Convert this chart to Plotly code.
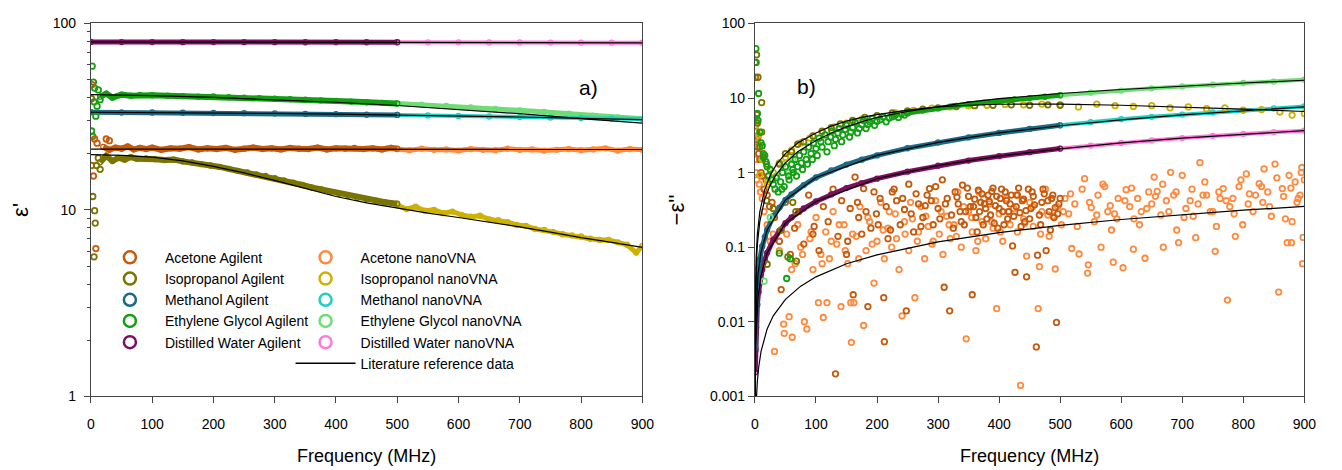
import plotly.graph_objects as go

# ---------------- panel a) : real permittivity eps' ----------------
# distilled water
wat_ag_f = [0, 50, 100, 150, 200, 250, 300, 350, 400, 450, 500]
wat_ag_e1 = [79.6, 79.5, 79.5, 79.4, 79.5, 79.4, 79.4, 79.3, 79.4, 79.3, 79.3]
wat_nv_f = [500, 550, 600, 650, 700, 750, 800, 850, 900]
wat_nv_e1 = [79.3, 79.2, 79.2, 79.1, 79.1, 79.0, 79.0, 78.9, 78.9]

# ethylene glycol
eg_ag_f = [15, 25, 35, 50, 65, 80, 100, 125, 150, 175, 200, 225, 250, 275, 300, 325, 350, 375, 400, 425, 450, 475, 500]
eg_ag_e1 = [40.5, 42.0, 40.0, 41.5, 41.0, 41.4, 41.2, 41.0, 40.8, 40.5, 40.6, 40.2, 40.0, 39.8, 39.5, 39.3, 39.0, 38.7, 38.4, 38.1, 37.8, 37.5, 37.2]
eg_ag_lf_f = [1, 2, 3, 4, 5, 6, 8, 10, 12, 15]
eg_ag_lf_e1 = [26.5, 59.0, 24.8, 48.5, 38.0, 45.0, 31.8, 36.0, 44.0, 39.0]
eg_nv_f = [500, 540, 580, 620, 660, 700, 740, 780, 820, 860, 900]
eg_nv_e1 = [37.2, 36.7, 36.1, 35.5, 34.8, 34.2, 33.5, 32.8, 32.0, 31.3, 30.8]

# methanol
met_ag_f = [0, 50, 100, 150, 200, 250, 300, 350, 400, 450, 500]
met_ag_e1 = [33.4, 33.3, 33.3, 33.2, 33.1, 33.0, 32.9, 32.7, 32.6, 32.4, 32.3]
met_nv_f = [500, 550, 600, 650, 700, 750, 800, 850, 900]
met_nv_e1 = [32.3, 32.1, 31.9, 31.7, 31.5, 31.3, 31.1, 30.9, 30.7]

# acetone
ace_ag_f = [20, 30, 40, 50, 60, 70, 80, 90, 100, 115, 130, 145, 160, 175, 190, 205, 220, 235,
            250, 265, 280, 295, 310, 325, 340, 355, 370, 385, 400, 415, 430, 445, 460, 475, 490, 500]
ace_ag_e1 = [21.8, 21.0, 21.6, 21.3, 21.9, 21.1, 21.5, 21.2, 21.6, 21.0, 21.4, 21.3, 21.7, 21.1, 21.4, 21.2, 21.5, 21.0,
             21.3, 21.6, 21.2, 21.4, 21.1, 21.5, 21.3, 21.2, 21.6, 21.1, 21.4, 21.3, 21.5, 21.2, 21.4, 21.1, 21.5, 21.3]
ace_ag_lf_f = [1, 2, 4, 6, 8, 10, 25, 30]
ace_ag_lf_e1 = [17.3, 47.0, 15.2, 24.0, 6.2, 22.8, 24.0, 23.5]
ace_nv_f = [500, 520, 540, 560, 580, 600, 620, 640, 660, 680, 700, 720, 740, 760, 780, 800, 820, 840, 860, 880, 900]
ace_nv_e1 = [21.2, 20.9, 21.3, 21.0, 21.1, 20.8, 21.2, 21.0, 20.9, 21.3, 21.0, 21.1, 20.8, 21.0, 21.2, 20.9, 21.1, 21.4, 20.8, 21.2, 21.0]

# isopropanol
ipa_ag_f = [15, 25, 35, 45, 55, 65, 75, 90, 105, 120, 135, 150, 165, 180, 195, 210, 225, 240, 255, 270,
            285, 300, 315, 330, 345, 360, 375, 390, 405, 420, 435, 450, 465, 480, 500]
ipa_ag_e1 = [18.0, 19.5, 18.3, 19.0, 18.6, 19.2, 18.8, 18.9, 18.7, 18.5, 18.6, 18.2, 18.0, 17.6, 17.3, 17.0, 16.6, 16.2, 15.9, 15.5,
             15.2, 14.8, 14.4, 14.0, 13.6, 13.2, 12.9, 12.5, 12.2, 11.9, 11.6, 11.4, 11.2, 11.0, 10.8]
ipa_ag_lf_f = [1, 3, 5, 6, 7, 9, 12, 15]
ipa_ag_lf_e1 = [39.5, 11.8, 5.6, 9.9, 8.5, 17.3, 19.0, 16.5]
ipa_nv_f = [500, 515, 530, 545, 560, 575, 590, 605, 620, 635, 650, 665, 680, 695, 710, 725, 740, 755, 770, 785,
            800, 815, 830, 845, 860, 875, 890, 900]
ipa_nv_e1 = [10.6, 10.1, 10.4, 9.9, 10.0, 9.6, 9.8, 9.4, 9.2, 9.3, 8.9, 8.8, 8.6, 8.3, 8.2, 7.9, 7.8, 7.6, 7.4, 7.3,
             7.2, 7.0, 6.9, 6.9, 6.7, 6.5, 5.9, 6.4]

# literature reference curves, eps'
lit_f = [0, 100, 200, 300, 400, 500, 600, 700, 800, 900]
lit_wat_e1 = [79.6, 79.5, 79.4, 79.3, 79.2, 79.1, 79.0, 78.9, 78.8, 78.7]
lit_eg_e1 = [41.5, 41.0, 40.1, 39.0, 37.8, 36.3, 34.6, 32.8, 30.9, 29.2]
lit_met_e1 = [33.4, 33.3, 33.1, 32.9, 32.6, 32.3, 31.9, 31.5, 31.0, 30.5]
lit_ace_e1 = [21.2, 21.2, 21.2, 21.2, 21.2, 21.2, 21.1, 21.1, 21.1, 21.1]
lit_ipa_f = [0, 50, 100, 150, 200, 250, 300, 350, 400, 450, 500, 550, 600, 650, 700, 750, 800, 850, 900]
lit_ipa_e1 = [19.8, 19.6, 19.2, 18.3, 17.1, 15.8, 14.4, 13.0, 11.8, 10.9, 10.2, 9.6, 9.1, 8.6, 8.1, 7.6, 7.1, 6.7, 6.3]

# ---------------- panel b) : loss factor -eps'' ----------------
smooth_f = [0.5, 1, 2, 4, 6, 8, 12, 16, 20, 30, 40, 50, 60, 80, 100, 125, 150, 175, 200, 250, 300, 350, 400, 450, 500]
wat_ag_e2 = [0.0021, 0.0042, 0.0085, 0.017, 0.025, 0.034, 0.05, 0.067, 0.084, 0.125,
             0.165, 0.21, 0.25, 0.33, 0.41, 0.51, 0.62, 0.72, 0.83, 1.03,
             1.24, 1.45, 1.66, 1.88, 2.1]
met_ag_e2 = [0.0045, 0.009, 0.017, 0.034, 0.052, 0.069, 0.103, 0.137, 0.17, 0.26,
             0.34, 0.43, 0.51, 0.68, 0.86, 1.07, 1.28, 1.49, 1.7, 2.12,
             2.54, 2.96, 3.4, 3.85, 4.3]
nv_hi_f = [500, 550, 600, 650, 700, 750, 800, 850, 900]
wat_nv_e2 = [2.1, 2.3, 2.5, 2.7, 2.9, 3.1, 3.3, 3.48, 3.65]
met_nv_e2 = [4.3, 4.75, 5.2, 5.6, 6.0, 6.4, 6.8, 7.25, 7.7]

eg_ag2_f = [1.5, 2, 4, 5, 6, 8, 10, 12, 14, 16,
            18, 20, 22, 25, 28, 30, 33, 35, 38, 40,
            42, 45, 48, 50, 52, 55, 58, 60, 63, 66,
            70, 73, 76, 80, 84, 88, 92, 96, 100, 105,
            110, 115, 120, 126, 132, 138, 144, 150, 157, 164,
            171, 178, 185, 192, 200, 210, 220, 230, 240, 250]
eg_ag2_e2 = [46, 30, 6.2, 5.0, 11.5, 3.5, 2.5, 2.3, 1.6, 1.7,
             1.4, 1.2, 0.9, 1.1, 0.8, 0.7, 0.6, 0.85, 0.55, 0.083,
             0.75, 1.0, 0.65, 1.2, 0.038, 0.9, 0.07, 1.3, 1.0, 1.5,
             1.2, 1.7, 1.35, 1.9, 1.5, 2.2, 1.8, 2.5, 2.1, 2.9,
             2.2, 3.2, 2.6, 3.6, 2.8, 3.9, 3.2, 4.3, 3.5, 4.7,
             3.9, 5.0, 4.4, 5.3, 4.9, 5.6, 5.4, 5.9, 6.1, 6.3]
eg_ag2b_f = [44, 56, 62, 68, 78, 86, 94, 102, 108, 118,
             124, 130, 136, 142, 148, 155, 160, 168, 175, 182,
             188, 196, 205, 215, 225, 235, 245]
eg_ag2b_e2 = [0.6, 0.8, 1.1, 0.9, 1.1, 1.3, 1.5, 1.7, 2.6, 1.9,
              3.0, 2.3, 3.4, 2.6, 3.8, 3.0, 4.0, 3.4, 4.4, 3.9,
              4.8, 4.3, 5.1, 4.8, 5.6, 5.5, 5.9]
eg_ag2_band_f = [250, 275, 300, 325, 350, 375, 400, 425, 450, 475, 500]
eg_ag2_band_e2 = [6.3, 6.8, 7.3, 7.8, 8.3, 8.7, 9.1, 9.6, 10.0, 10.4, 10.9]
eg_nv2_e2 = [10.9, 11.8, 12.6, 13.5, 14.3, 15.1, 15.9, 16.6, 17.6]
eg_nv2_lf_f = [15, 25, 35, 46, 55, 62]
eg_nv2_lf_e2 = [0.035, 0.25, 0.9, 1.3, 1.0, 1.5]

ipa_nv2_f = [20, 30, 40, 50, 60, 75, 90, 110, 130, 150,
             175, 200, 230, 260, 290, 320, 350, 380, 410, 440,
             470, 500, 530, 560, 590, 620, 650, 680, 710, 740,
             770, 800, 830, 860, 880, 900]
ipa_nv2_e2 = [0.7, 1.0, 1.35, 1.6, 2.0, 2.5, 2.9, 3.5, 4.1, 4.6,
              5.2, 5.7, 6.3, 6.8, 7.3, 7.6, 7.9, 8.0, 8.2, 8.1,
              8.3, 8.1, 7.6, 8.3, 7.9, 7.7, 7.9, 7.4, 7.6, 7.2,
              7.4, 6.9, 7.0, 6.5, 5.9, 6.2]
ipa_ag2_f = [40, 50, 60, 70, 80, 95, 110, 125, 140, 160,
             180, 200, 225, 250, 275, 300, 330, 360, 390, 420,
             450, 480, 500]
ipa_ag2_e2 = [1.3, 1.8, 1.9, 2.4, 2.6, 3.1, 3.6, 4.0, 4.5, 5.0,
              5.5, 5.8, 6.3, 6.7, 7.1, 7.4, 7.7, 7.9, 8.0, 8.1,
              8.0, 8.1, 8.0]
ipa_ag2_lf_f = [2.7, 5, 11, 3, 4, 11, 13.6, 19, 19, 30, 43, 62, 67, 54, 68, 20, 8]
ipa_ag2_lf_e2 = [38, 19, 8.7, 6.0, 4.6, 3.5, 1.8, 1.3, 0.42, 0.33, 0.17, 0.4, 0.3, 0.074, 0.065, 0.059, 2.2]
ipa_nv2_lf_f = [0.5, 8, 21, 3, 12, 6]
ipa_nv2_lf_e2 = [4.1, 0.93, 0.75, 2.5, 1.5, 3.2]

ace_ag2_f = [0.3, 1, 1.5, 2, 3, 4, 5, 6, 8, 10, 12, 15, 18, 20, 24, 28,
             32, 40, 43, 50, 58, 65, 72, 80, 88, 95,
             97, 105, 112, 120, 128, 132, 136, 142, 150, 156,
             161, 164, 170, 178, 185, 190, 199, 205, 211, 212,
             218, 225, 232, 238, 245, 248, 252, 260, 268, 275,
             282, 286, 292, 300, 307, 310, 315, 319, 322, 328,
             333, 338, 340, 345, 350, 356, 358, 362, 366, 370,
             374, 378, 382, 386, 390, 394, 398, 402, 406, 410,
             414, 418, 422, 426, 430, 434, 438, 442, 445, 448,
             452, 456, 461, 463, 466, 470, 474, 477, 482, 486,
             490, 494, 498]
ace_ag2_e2 = [30, 19, 4.8, 3.6, 2.8, 2.2, 3.0, 1.8, 1.5, 1.0, 0.9, 0.6, 0.8, 0.5, 0.35, 0.4,
              0.25, 0.12, 0.027, 0.4, 0.08, 0.18, 0.3, 0.11, 0.5, 0.15,
              0.19, 0.09, 0.35, 0.22, 0.6, 0.002, 0.14, 0.42, 0.08, 0.33,
              0.023, 0.87, 0.25, 0.61, 0.016, 0.18, 0.28, 0.45, 0.021, 0.0054,
              0.13, 0.55, 0.42, 0.2, 0.32, 0.014, 0.7, 0.16, 0.38, 0.25,
              0.5, 0.61, 0.2, 0.33, 0.8, 0.029, 0.45, 0.014, 0.27, 0.55,
              0.38, 0.22, 0.68, 0.3, 0.48, 0.023, 0.35, 0.25, 0.58, 0.4,
              0.2, 0.33, 0.5, 0.27, 0.62, 0.36, 0.18, 0.45, 0.3, 0.55,
              0.24, 0.38, 0.104, 0.046, 0.5, 0.29, 0.42, 0.22, 0.04, 0.6,
              0.33, 0.48, 0.0046, 0.078, 0.27, 0.4, 0.52, 0.09, 0.3, 0.45,
              0.25, 0.0098, 0.38]
ace_ag2b_f = [152, 168, 175, 182, 195, 202, 215, 222, 228, 242,
              256, 264, 272, 279, 289, 296, 303, 312, 325, 331,
              336, 343, 348, 353, 360, 364, 368, 372, 376, 380,
              384, 388, 392, 396, 400, 404, 408, 412, 416, 420,
              424, 428, 432, 436, 440, 444, 450, 454, 458, 468,
              472, 480, 484, 488, 492, 496, 500]
ace_ag2b_e2 = [0.12, 0.4, 0.15, 0.3, 0.55, 0.2, 0.35, 0.17, 0.6, 0.45,
               0.28, 0.52, 0.19, 0.36, 0.42, 0.65, 0.24, 0.38, 0.18, 0.47,
               0.3, 0.2, 0.62, 0.35, 0.44, 0.16, 0.3, 0.52, 0.38, 0.24,
               0.41, 0.56, 0.21, 0.48, 0.33, 0.6, 0.2, 0.42, 0.3, 0.5,
               0.26, 0.35, 0.62, 0.19, 0.44, 0.31, 0.24, 0.55, 0.37, 0.2,
               0.6, 0.42, 0.17, 0.5, 0.34, 0.28, 0.45]
ace_nv2_f = [0.5, 1, 2, 3, 5, 7, 9, 12, 15, 20, 25, 30,
             32, 40, 47, 48, 52, 56, 61, 66, 70, 75,
             81, 85, 90, 95, 100, 104, 108, 112, 116, 118,
             122, 128, 134, 141, 146, 152, 157, 158, 162, 166,
             172, 178, 182, 188, 195, 200, 206, 212, 218, 224,
             230, 236, 241, 246, 252, 258, 262, 266, 272, 278,
             284, 290, 296, 302, 308, 314, 320, 326, 332, 338,
             346, 350, 356, 362, 367, 372, 378, 384, 390, 396,
             400, 406, 412, 418, 424, 430, 435, 440, 445, 450,
             456, 464, 466, 470, 476, 482, 488, 492, 496, 502,
             508, 514, 519, 524, 531, 536, 540, 545, 546, 551,
             556, 562, 567, 573, 578, 584, 587, 589, 595, 603,
             608, 614, 620, 621, 627, 633, 639, 645, 650, 654,
             659, 665, 669, 674, 681, 686, 691, 694, 700, 706,
             713, 718, 722, 729, 734, 740, 746, 754, 756, 762,
             767, 774, 778, 783, 787, 793, 799, 805, 810, 816,
             826, 832, 834, 840, 846, 852, 858, 864, 869, 872,
             875, 879, 880, 885, 890, 893, 896, 897, 898, 900]
ace_nv2_e2 = [2.26, 1.5, 1.0, 0.8, 2.5, 0.7, 0.55, 0.45, 0.3, 0.2, 0.12, 0.15,
              0.004, 0.09, 0.0093, 0.007, 0.15, 0.0117, 0.0062, 0.06, 0.2, 0.1,
              0.01, 0.008, 0.13, 0.05, 0.25, 0.018, 0.08, 0.0114, 0.16, 0.018,
              0.07, 0.3, 0.11, 0.016, 0.2, 0.06, 0.018, 0.0053, 0.018, 0.14,
              0.35, 0.0089, 0.09, 0.22, 0.033, 0.12, 0.4, 0.07, 0.18, 0.1,
              0.28, 0.05, 0.012, 0.15, 0.09, 0.24, 0.021, 0.12, 0.35, 0.07,
              0.19, 0.11, 0.42, 0.15, 0.08, 0.26, 0.13, 0.2, 0.55, 0.1,
              0.0059, 0.3, 0.16, 0.09, 0.55, 0.22, 0.13, 0.38, 0.18, 0.015,
              0.28, 0.12, 0.45, 0.2, 0.33, 0.16, 0.0014, 0.24, 0.076, 0.4,
              0.19, 0.015, 0.055, 0.3, 0.6, 0.14, 0.26, 0.051, 0.35, 0.2,
              0.45, 0.28, 0.096, 0.38, 0.081, 0.6, 0.83, 0.045, 0.058, 0.34,
              0.22, 0.5, 0.1, 0.65, 0.3, 0.17, 0.063, 0.28, 0.45, 0.053,
              0.59, 0.35, 0.094, 0.24, 0.45, 0.3, 0.071, 0.55, 0.38, 0.87,
              0.56, 0.27, 0.1, 0.42, 1.01, 0.5, 0.17, 0.115, 0.92, 0.33,
              0.42, 0.26, 0.134, 1.36, 0.5, 0.5, 0.3, 0.088, 0.19, 0.45,
              0.61, 0.0195, 0.35, 0.45, 0.14, 0.65, 0.2, 0.96, 0.52, 0.3,
              0.71, 0.4, 1.12, 0.55, 0.26, 1.3, 0.025, 0.61, 0.24, 0.115,
              0.92, 0.115, 0.22, 0.75, 0.45, 0.5, 1.17, 0.06, 0.135, 0.8]
ace_nv2b_f = [60, 78, 92, 110, 125, 138, 148, 160, 170, 185,
              192, 210, 220, 232, 245, 255, 268, 280, 292, 305,
              318, 330, 342, 355, 365, 375, 388, 402, 415, 428,
              442, 455, 468, 480, 505, 517, 528, 548, 560, 570,
              582, 593, 606, 617, 630, 642, 656, 668, 678, 690,
              703, 716, 726, 737, 750, 760, 772, 785, 796, 808,
              820, 830, 843, 855, 866, 878, 888, 895]
ace_nv2b_e2 = [0.05, 0.08, 0.16, 0.06, 0.12, 0.2, 0.09, 0.15, 0.07, 0.25,
               0.11, 0.17, 0.3, 0.13, 0.22, 0.4, 0.16, 0.26, 0.12, 0.3,
               0.2, 0.14, 0.35, 0.25, 0.12, 0.45, 0.22, 0.16, 0.3, 0.5,
               0.21, 0.35, 0.15, 0.27, 0.3, 0.52, 0.19, 0.4, 0.27, 0.7,
               0.36, 0.24, 0.42, 0.62, 0.2, 0.33, 0.48, 0.7, 0.3, 0.55,
               0.25, 0.6, 0.38, 0.75, 0.3, 0.55, 0.42, 0.28, 0.8, 0.38,
               0.5, 0.65, 0.35, 0.85, 0.48, 0.62, 0.4, 1.0]

# literature reference curves, -eps''
lit2_f = [0.05, 1, 5, 10, 20, 50, 100, 200, 300, 400, 500, 600, 700, 800, 900]
lit2_wat = [0.0002, 0.0042, 0.021, 0.042, 0.084, 0.21, 0.41, 0.83, 1.24, 1.66, 2.08, 2.5, 2.9, 3.28, 3.65]
lit2_met = [0.00043, 0.0087, 0.043, 0.086, 0.17, 0.43, 0.86, 1.7, 2.54, 3.4, 4.25, 5.1, 5.95, 6.8, 7.6]
lit2_b_f = [0.05, 1, 2, 4, 8, 16, 25, 35, 50, 70, 100, 125, 150, 175, 200, 250, 300, 350, 400, 450, 500, 600, 700, 800, 900]
lit2_eg = [0.0013, 0.027, 0.054, 0.11, 0.22, 0.44, 0.68, 0.95, 1.35, 1.9,
           2.7, 3.4, 4.1, 4.8, 5.5, 6.6, 7.7, 8.8, 9.8, 10.7,
           11.5, 13.0, 14.5, 15.9, 17.3]
lit2_ipa = [0.0019, 0.037, 0.074, 0.15, 0.3, 0.59, 0.92, 1.28, 1.8, 2.5,
            3.4, 4.2, 4.9, 5.5, 6.0, 6.9, 7.6, 8.0, 8.25, 8.3,
            8.28, 8.0, 7.6, 7.1, 6.6]
lit2_ace_f = [2, 2.5, 3, 4, 6, 10, 20, 30, 50, 75, 100, 150, 200, 300, 400, 500, 600, 700, 800, 900]
lit2_ace = [0.0008, 0.001, 0.0012, 0.0016, 0.0024, 0.004, 0.008, 0.012, 0.02, 0.03,
            0.04, 0.06, 0.079, 0.118, 0.157, 0.196, 0.235, 0.274, 0.313, 0.352]

legend_ag = ["Acetone Agilent", "Isopropanol Agilent", "Methanol Agilent",
             "Ethylene Glycol Agilent", "Distilled Water Agilent"]
legend_nv = ["Acetone nanoVNA", "Isopropanol nanoVNA", "Methanol nanoVNA",
             "Ethylene Glycol nanoVNA", "Distilled Water nanoVNA"]
lit_name = "Literature reference data"

# ---------------- styling ----------------
COL = {
    "ace_ag": "#c65a0c", "ace_nv": "#ff8a3d",
    "ipa_ag": "#7a7400", "ipa_nv": "#cdb200",
    "met_ag": "#1b6a86", "met_nv": "#22cfc3",
    "eg_ag": "#12a012", "eg_nv": "#6fdc74",
    "wat_ag": "#7d0f62", "wat_nv": "#ff78da",
}
FONT = "Liberation Sans, Arial, sans-serif"

fig = go.Figure()


def band(f, v, color, ax, width=5):
    fig.add_trace(go.Scatter(
        x=f, y=v, mode="lines+markers", xaxis="x" + ax, yaxis="y" + ax,
        line=dict(color=color, width=width),
        marker=dict(symbol="circle-open", size=5, color=color, line=dict(width=1.3)),
        showlegend=False, hoverinfo="skip"))


def dots(f, v, color, ax, size=5.5):
    fig.add_trace(go.Scatter(
        x=f, y=v, mode="markers", xaxis="x" + ax, yaxis="y" + ax,
        marker=dict(symbol="circle-open", size=size, color=color, line=dict(width=1.8)),
        showlegend=False, hoverinfo="skip"))


def lit(f, v, ax):
    fig.add_trace(go.Scatter(
        x=f, y=v, mode="lines", xaxis="x" + ax, yaxis="y" + ax,
        line=dict(color="black", width=1.2), showlegend=False, hoverinfo="skip"))


# panel a)  (axis suffix "")
band(wat_nv_f, wat_nv_e1, COL["wat_nv"], "", 4)
band(eg_nv_f, eg_nv_e1, COL["eg_nv"], "", 5)
band(met_nv_f, met_nv_e1, COL["met_nv"], "", 4)
band(ace_nv_f, ace_nv_e1, COL["ace_nv"], "", 5)
band(ipa_nv_f, ipa_nv_e1, COL["ipa_nv"], "", 5)
band(wat_ag_f, wat_ag_e1, COL["wat_ag"], "")
band(eg_ag_f, eg_ag_e1, COL["eg_ag"], "", 6)
band(met_ag_f, met_ag_e1, COL["met_ag"], "")
band(ace_ag_f, ace_ag_e1, COL["ace_ag"], "", 6)
band(ipa_ag_f, ipa_ag_e1, COL["ipa_ag"], "", 6)
dots(eg_ag_lf_f, eg_ag_lf_e1, COL["eg_ag"], "")
dots(ace_ag_lf_f, ace_ag_lf_e1, COL["ace_ag"], "")
dots(ipa_ag_lf_f, ipa_ag_lf_e1, COL["ipa_ag"], "")
lit(lit_f, lit_wat_e1, "")
lit(lit_f, lit_eg_e1, "")
lit(lit_f, lit_met_e1, "")
lit(lit_f, lit_ace_e1, "")
lit(lit_ipa_f, lit_ipa_e1, "")

# panel b)  (axis suffix "2")
dots(ace_nv2_f, ace_nv2_e2, COL["ace_nv"], "2")
dots(ace_nv2b_f, ace_nv2b_e2, COL["ace_nv"], "2")
dots(ace_ag2_f, ace_ag2_e2, COL["ace_ag"], "2")
dots(ace_ag2b_f, ace_ag2b_e2, COL["ace_ag"], "2")
band(nv_hi_f, wat_nv_e2, COL["wat_nv"], "2", 4)
band(nv_hi_f, met_nv_e2, COL["met_nv"], "2", 4)
band(nv_hi_f, eg_nv2_e2, COL["eg_nv"], "2", 4)
band(smooth_f, wat_ag_e2, COL["wat_ag"], "2")
band(smooth_f, met_ag_e2, COL["met_ag"], "2")
dots(eg_nv2_lf_f, eg_nv2_lf_e2, COL["eg_nv"], "2")
dots(ipa_nv2_f, ipa_nv2_e2, COL["ipa_nv"], "2")
dots(ipa_nv2_lf_f, ipa_nv2_lf_e2, COL["ipa_nv"], "2")
dots(ipa_ag2_f, ipa_ag2_e2, COL["ipa_ag"], "2")
dots(ipa_ag2_lf_f, ipa_ag2_lf_e2, COL["ipa_ag"], "2")
dots(eg_ag2_f, eg_ag2_e2, COL["eg_ag"], "2")
dots(eg_ag2b_f, eg_ag2b_e2, COL["eg_ag"], "2")
band(eg_ag2_band_f, eg_ag2_band_e2, COL["eg_ag"], "2")
lit(lit2_f, lit2_wat, "2")
lit(lit2_f, lit2_met, "2")
lit(lit2_b_f, lit2_eg, "2")
lit(lit2_b_f, lit2_ipa, "2")
lit(lit2_ace_f, lit2_ace, "2")

# legend entries (two columns -> two legends)
for name, key in zip(legend_ag, ["ace_ag", "ipa_ag", "met_ag", "eg_ag", "wat_ag"]):
    fig.add_trace(go.Scatter(x=[None], y=[None], mode="markers", name=name, legend="legend",
                             marker=dict(symbol="circle-open", size=12, color=COL[key], line=dict(width=2.5))))
for name, key in zip(legend_nv, ["ace_nv", "ipa_nv", "met_nv", "eg_nv", "wat_nv"]):
    fig.add_trace(go.Scatter(x=[None], y=[None], mode="markers", name=name, legend="legend2",
                             marker=dict(symbol="circle-open", size=12, color=COL[key], line=dict(width=2.5))))
fig.add_trace(go.Scatter(x=[None], y=[None], mode="lines", name=lit_name, legend="legend2",
                         line=dict(color="black", width=1.5)))

W, H = 1342, 470
axis_common = dict(showline=True, linecolor="#444", linewidth=1.2, mirror=True,
                   ticks="outside", ticklen=6, tickcolor="#444", showgrid=False, zeroline=False,
                   tickfont=dict(size=14, color="black", family=FONT))
xcommon = dict(axis_common, range=[0, 900], tickvals=[0, 100, 200, 300, 400, 500, 600, 700, 800, 900],
               ticklabelstandoff=9,
               title=dict(text="Frequency (MHz)", font=dict(size=18, color="black", family=FONT), standoff=18))

minor_vals = [2, 3, 4, 5, 6, 7, 8, 9, 20, 30, 40, 50, 60, 70, 80, 90]

fig.update_layout(
    width=W, height=H, margin=dict(l=0, r=0, t=0, b=0),
    paper_bgcolor="white", plot_bgcolor="white",
    font=dict(family=FONT, color="black"),
    xaxis=dict(xcommon, domain=[88 / W, 646 / W], anchor="y"),
    yaxis=dict(axis_common, type="log", range=[0, 2], domain=[68 / H, 454 / H], anchor="x",
               tickvals=[1, 10, 100], ticktext=["1", "10", "100"], ticklabelstandoff=5,
               minor=dict(ticks="outside", ticklen=3, tickcolor="#444", tickvals=minor_vals),
               title=dict(text="ε'", font=dict(size=22, color="black", family=FONT), standoff=17)),
    xaxis2=dict(xcommon, domain=[760 / W, 1316 / W], anchor="y2"),
    yaxis2=dict(axis_common, type="log", range=[-3, 2], domain=[68 / H, 454 / H], anchor="x2",
                tickvals=[0.001, 0.01, 0.1, 1, 10, 100],
                ticktext=["0.001", "0.01", "0.1", "1", "10", "100"],
                title=dict(text="\u2212ε''", font=dict(size=22, color="black", family=FONT), standoff=19)),
    legend=dict(x=92 / W, y=1 - 242 / H, xanchor="left", yanchor="top", bgcolor="rgba(0,0,0,0)",
                font=dict(size=14, family=FONT, color="black"), itemwidth=60, tracegroupgap=0),
    legend2=dict(x=290 / W, y=1 - 242 / H, xanchor="left", yanchor="top", bgcolor="rgba(0,0,0,0)",
                 font=dict(size=14, family=FONT, color="black"), itemwidth=60, tracegroupgap=0),
    annotations=[
        dict(text="a)", x=592 / W, y=1 - 68 / H, xref="paper", yref="paper", showarrow=False,
             font=dict(size=21, family=FONT, color="black")),
        dict(text="b)", x=812 / W, y=1 - 67 / H, xref="paper", yref="paper", showarrow=False,
             font=dict(size=21, family=FONT, color="black")),
    ],
)

fig.write_html("out.html")
